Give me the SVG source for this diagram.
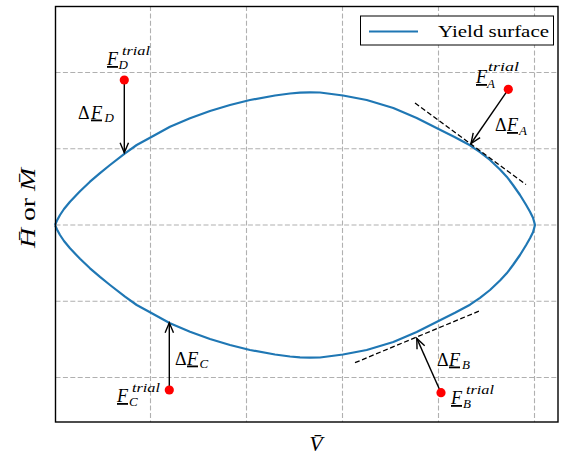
<svg xmlns="http://www.w3.org/2000/svg" width="563" height="455" viewBox="0 0 563 455">
<style>
.grid{stroke:#b0b0b0;stroke-width:1.1;stroke-dasharray:5,2.4;fill:none}
.curve{stroke:#1f77b4;stroke-width:2.2;fill:none;stroke-linejoin:round}
.tan{stroke:#000;stroke-width:1.3;stroke-dasharray:5,2.6;fill:none}
.arr{stroke:#000;stroke-width:1.4;fill:none;marker-end:url(#ah)}
.pt{fill:#ff0000}
text{font-family:"Liberation Serif","DejaVu Serif",serif;fill:#000}
.mi{font-style:italic;font-size:18px}
.up{font-size:18px}
.sm{font-style:italic;font-size:13px}
.u{text-decoration:underline}
</style>
<defs>
<marker id="ah" markerUnits="userSpaceOnUse" markerWidth="16" markerHeight="12" refX="0" refY="0" viewBox="-12 -6 14 12" orient="auto" overflow="visible">
<path d="M-10,-4.2 L0,0 L-10,4.2" fill="none" stroke="#000" stroke-width="1.4"/>
</marker>
</defs>
<rect x="0" y="0" width="563" height="455" fill="#fff"/>
<g id="grid">
<path class="grid" d="M150.5,6V422M246.5,6V422M342.5,6V422M438.5,6V422M534.5,6V422M55.5,72.5H558M55.5,148.8H558M55.5,225H558M55.5,301.2H558M55.5,377.5H558"/>
</g>
<g id="yield-surface">
<polyline class="curve" points="55,225 57,220.5 60,215 64,209 70,201.7 80,191.2 90,181.7 100,173.1 110,165 125,153.3 136.7,145 150,137.7 170,126.7 190,118.3 210,111 230,105 250,100 275,95.5 290,93.5 300,92.7 310,92.3 320,92.5 343,95.5 366.7,100 393.3,108 416.7,118 440,129.7 455,137.2 470,145.3 480,152.2 490,160 500,169.5 506.7,176.7 513,185 520,195 526,204.8 530,211.7 533,217.8 535,225 533,232.2 530,238.3 526,245.2 520,255 513,265 506.7,273.3 500,280.5 490,290 480,297.8 470,304.7 455,312.8 440,320.3 416.7,332 393.3,342 366.7,350 343,354.5 320,357.5 310,357.7 300,357.3 290,356.5 275,354.5 250,350 230,345 210,339 190,331.7 170,323.3 150,312.3 136.7,305 125,296.7 110,285 100,276.9 90,268.3 80,258.8 70,248.3 64,241 60,235 57,229.5 55,225"/>
</g>
<g id="connectors">
<line class="tan" x1="415" y1="103" x2="526" y2="184.5"/>
<line class="tan" x1="355" y1="362.7" x2="480" y2="310.7"/>
<line class="arr" x1="124.3" y1="80" x2="124.3" y2="152.7"/>
<line class="arr" x1="508.3" y1="89.3" x2="471" y2="143.5"/>
<line class="arr" x1="169.3" y1="390" x2="169.3" y2="322.7"/>
<line class="arr" x1="441" y1="392.7" x2="416.8" y2="338.4"/>
</g>
<g id="pointD">
<circle class="pt" cx="124.3" cy="80" r="4.6"/>
<text class="mi u" x="107" y="65">F</text><text class="sm" x="118.5" y="69">D</text><text class="sm" x="122" y="55" textLength="28" lengthAdjust="spacingAndGlyphs">trial</text>
<text class="up" x="78" y="118.5">Δ</text><text class="mi u" x="91" y="118.5">F</text><text class="sm" x="104.5" y="122">D</text>
</g>
<g id="pointA">
<circle class="pt" cx="508.3" cy="89.3" r="4.6"/>
<text class="mi u" x="476" y="83">F</text><text class="sm" x="487" y="88">A</text><text class="sm" x="488" y="71" textLength="31" lengthAdjust="spacingAndGlyphs">trial</text>
<text class="up" x="495" y="131">Δ</text><text class="mi u" x="507" y="131">F</text><text class="sm" x="519" y="134.5">A</text>
</g>
<g id="pointC">
<circle class="pt" cx="169.3" cy="390" r="4.6"/>
<text class="mi u" x="117" y="402">F</text><text class="sm" x="129" y="406">C</text><text class="sm" x="132" y="392" textLength="28" lengthAdjust="spacingAndGlyphs">trial</text>
<text class="up" x="175" y="364.5">Δ</text><text class="mi u" x="187" y="364.5">F</text><text class="sm" x="199.5" y="368">C</text>
</g>
<g id="pointB">
<circle class="pt" cx="441" cy="392.7" r="4.6"/>
<text class="mi u" x="451" y="404">F</text><text class="sm" x="463" y="408">B</text><text class="sm" x="466" y="394" textLength="28" lengthAdjust="spacingAndGlyphs">trial</text>
<text class="up" x="437" y="365.5">Δ</text><text class="mi u" x="449" y="365.5">F</text><text class="sm" x="462" y="369">B</text>
</g>
<g id="legend">
<rect x="360.5" y="16" width="193" height="29" fill="#fff" stroke="#000" stroke-width="1"/>
<line x1="369" y1="31.5" x2="418" y2="31.5" stroke="#1f77b4" stroke-width="2.2"/>
<text x="438" y="37" font-size="16" textLength="111" lengthAdjust="spacingAndGlyphs">Yield surface</text>
</g>
<g id="axes">
<rect x="55.5" y="6.5" width="502.5" height="415.5" fill="none" stroke="#000" stroke-width="1.4"/>
<text x="316" y="451" font-size="22" font-style="italic" text-anchor="middle">V̄</text>
<text transform="translate(35,208) rotate(-90)" x="0" y="0" font-size="22" text-anchor="middle" textLength="80" lengthAdjust="spacingAndGlyphs"><tspan font-style="italic">H̄</tspan> or <tspan font-style="italic">M̄</tspan></text>
</g>
</svg>
